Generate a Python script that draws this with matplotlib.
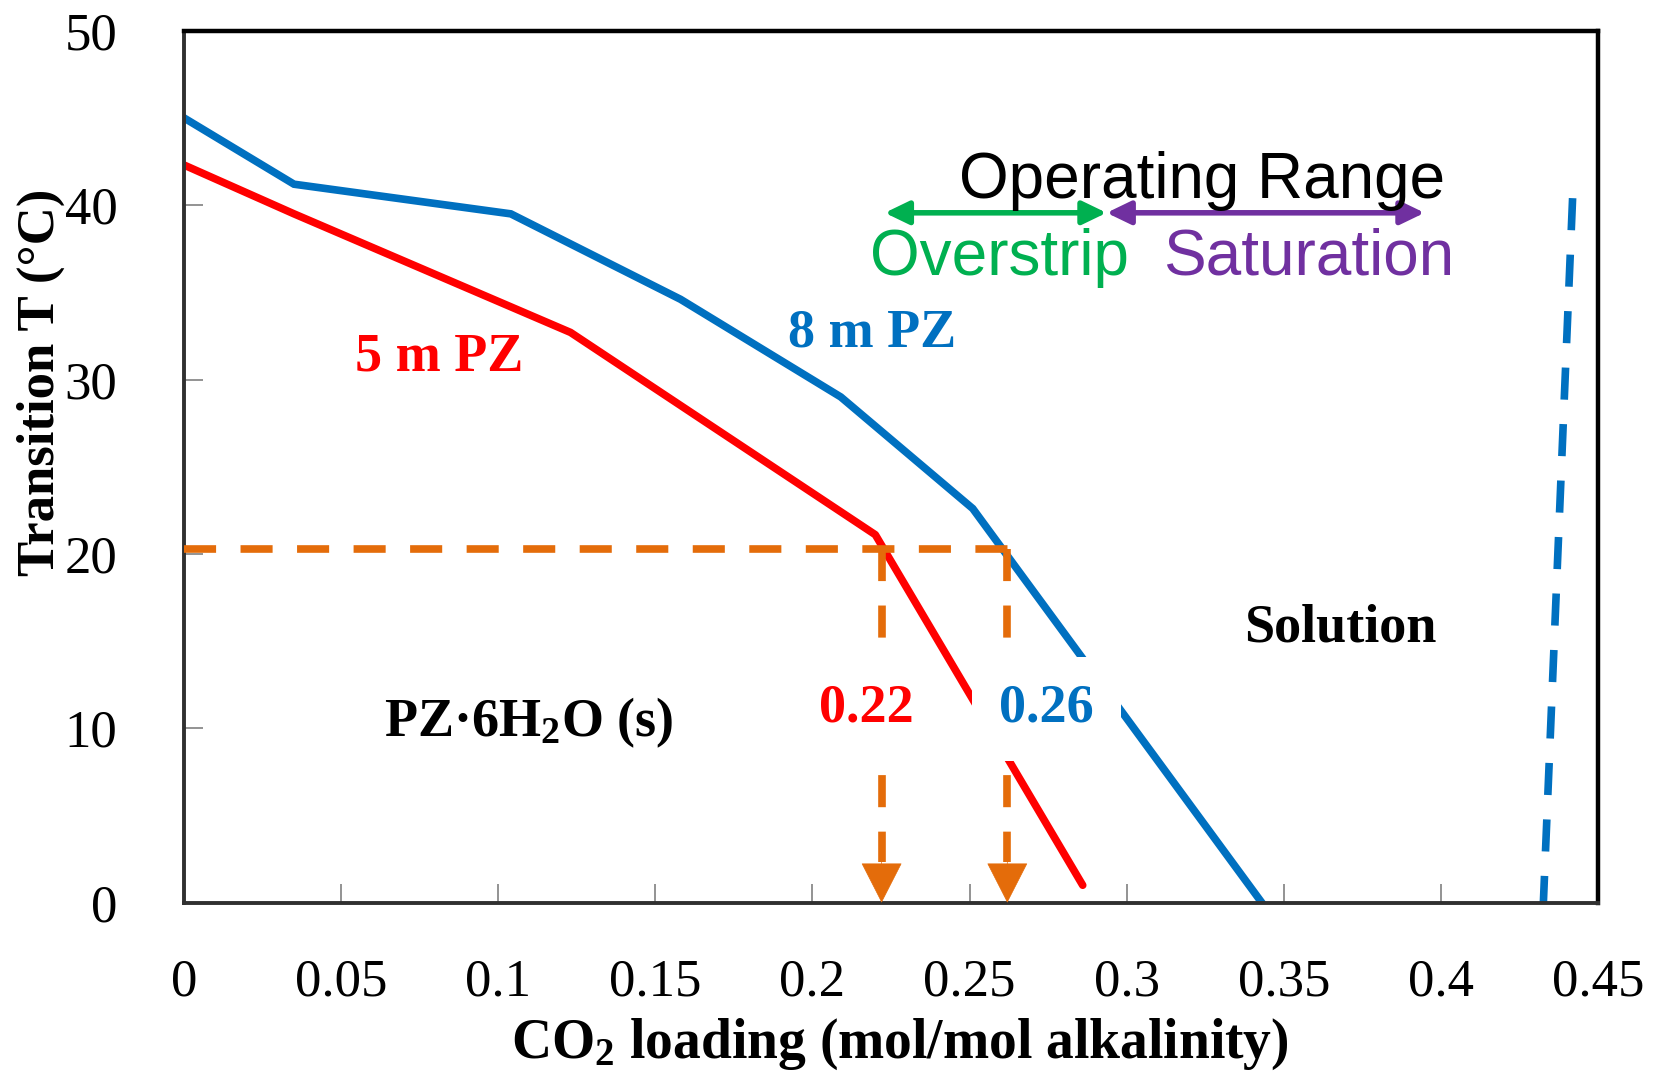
import numpy as np
import matplotlib
matplotlib.use('Agg')
import matplotlib.pyplot as plt

plt.rcParams['font.family'] = ['Liberation Serif', 'DejaVu Serif']
plt.rcParams['mathtext.default'] = 'regular'

# data
loading_8m = [0.0, 0.035, 0.104, 0.158, 0.209, 0.251, 0.343]
temp_8m = [45.0, 41.2, 39.5, 34.6, 29.0, 22.6, 0.0]
loading_5m = [0.0, 0.035, 0.123, 0.220, 0.286]
temp_5m = [42.3, 39.5, 32.7, 21.1, 1.0]
sat_loading = [0.4419, 0.4326]
sat_temp = [40.4, 0.0]
target_T = 20.28
lean_loading = [0.222, 0.262]
lean_labels = ['0.22', '0.26']
overstrip_range = [0.223, 0.2936]
saturation_range = [0.2936, 0.3948]

x_ticks = [0, 0.05, 0.1, 0.15, 0.2, 0.25, 0.3, 0.35, 0.4, 0.45]
x_tick_labels = ['0', '0.05', '0.1', '0.15', '0.2', '0.25', '0.3', '0.35', '0.4', '0.45']
y_ticks = [0, 10, 20, 30, 40, 50]

blue = '#0070C0'
red = '#FF0000'
orange = '#E46C0A'
green = '#00B050'
purple = '#7030A0'

fig = plt.figure(figsize=(16.61, 10.75), dpi=100)
ax = fig.add_axes([0.1108, 0.1603, 0.8513, 0.8111])

lw = 5.5
ax.plot(loading_8m, temp_8m, color=blue, lw=lw, solid_joinstyle='miter', zorder=2)
ax.plot(loading_5m, temp_5m, color=red, lw=lw, solid_capstyle='round', zorder=2)
ax.plot(sat_loading, sat_temp, color=blue, lw=lw, dashes=(4.2, 3.2), zorder=2)

# lean loading guides at 20 C
ax.plot([0, lean_loading[1] + 0.0012], [target_T, target_T], color=orange, lw=lw,
        dashes=(4.2, 3.2), zorder=3)
for xl in lean_loading:
    ax.plot([xl, xl], [target_T, 2.35], color=orange, lw=lw, dashes=(4.2, 3.2), zorder=3)
    ax.annotate('', xy=(xl, 0), xytext=(xl, 2.35),
                arrowprops=dict(arrowstyle='-|>,head_length=1.37,head_width=0.7',
                                mutation_scale=20, color=orange, lw=0.5,
                                shrinkA=0, shrinkB=0), zorder=3)

# operating range arrows
ax.annotate('', xy=(overstrip_range[0], 39.56), xytext=(overstrip_range[1], 39.56),
            arrowprops=dict(arrowstyle='<|-|>,head_length=1.45,head_width=0.7',
                            mutation_scale=10, color=green, lw=4, shrinkA=0, shrinkB=0),
            zorder=4)
ax.annotate('', xy=(saturation_range[0], 39.56), xytext=(saturation_range[1], 39.56),
            arrowprops=dict(arrowstyle='<|-|>,head_length=1.45,head_width=0.7',
                            mutation_scale=10, color=purple, lw=4, shrinkA=0, shrinkB=0),
            zorder=4)

sans = 'Liberation Sans'
ax.text(0.324, 40.4, 'Operating Range', family=sans, fontsize=46, color='black',
        ha='center', va='baseline', zorder=5)
ax.text(0.2595, 36.0, 'Overstrip', family=sans, fontsize=46, color=green,
        ha='center', va='baseline', zorder=5)
ax.text(0.358, 36.0, 'Saturation', family=sans, fontsize=46, color=purple,
        ha='center', va='baseline', zorder=5)

bold = dict(fontsize=39, fontweight='bold', ha='center', va='baseline', zorder=5)
ax.text(0.0812, 30.54, '5 m PZ', color=red, **bold)
ax.text(0.2189, 31.88, '8 m PZ', color=blue, **bold)
ax.text(0.1097, 9.56, r'PZ·6H$_2$O (s)', color='black', **bold)
ax.text(0.368, 15.0, 'Solution', color='black', **bold)
box = dict(facecolor='white', edgecolor='none', boxstyle='square,pad=0.5')
ax.text(0.2171, 10.38, lean_labels[0], color=red, bbox=box, **bold)
ax.text(0.2745, 10.38, lean_labels[1], color=blue, bbox=box, **bold)

ax.set_xlim(0, 0.45)
ax.set_ylim(0, 50)
ax.set_xticks(x_ticks, x_tick_labels)
ax.set_yticks(y_ticks)
ax.tick_params(axis='both', direction='in', length=14, width=1.2, color='#808080',
               labelsize=38)
ax.tick_params(axis='x', pad=40)
ax.tick_params(axis='y', pad=48)

for side in ['top', 'right']:
    ax.spines[side].set_linewidth(3.2)
    ax.spines[side].set_color('black')
for side in ['left', 'bottom']:
    ax.spines[side].set_linewidth(2.8)
    ax.spines[side].set_color('#303030')

ax.set_xlabel(r'CO$_2$ loading (mol/mol alkalinity)', fontsize=40, fontweight='bold')
ax.xaxis.set_label_coords(0.506, -0.131)
ax.set_ylabel('Transition T (°C)', fontsize=38, fontweight='bold')
ax.yaxis.set_label_coords(-0.084, 0.597)

fig.savefig('out.png', dpi=100)
